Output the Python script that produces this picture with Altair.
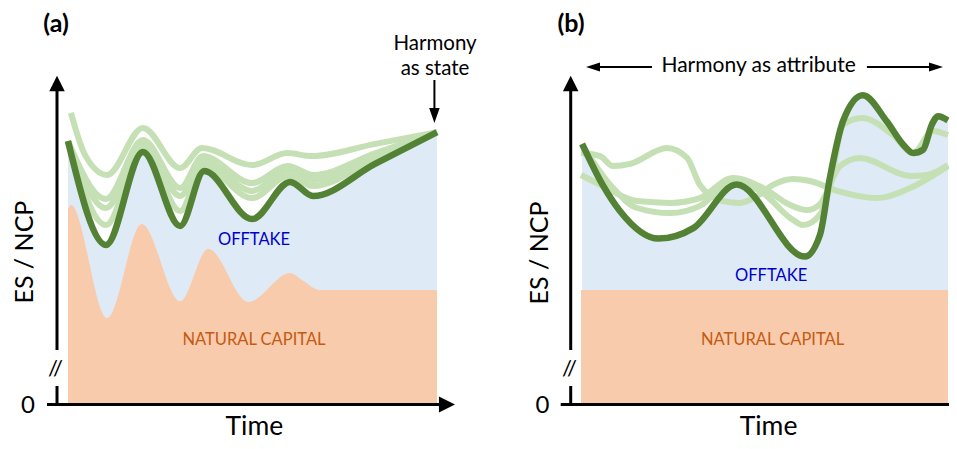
import altair as alt
import pandas as pd

# ---------------- colours ----------------
DARK = "#548235"
LIGHT = "#C5E0B4"
BLUE_FILL = "#DEEBF7"
ORANGE_FILL = "#F8CBAD"
BLUE_TXT = "#0000CC"
ORANGE_TXT = "#C55A11"
FONT = "Lato"

# ---------------- panel (a) data ----------------
a_dark_t = [0, 10.3, 20.3, 30.4, 36.9, 49.9, 60.2, 66.4, 83.2, 100]
a_dark_v = [87.3, 52.7, 83.7, 59.0, 77.3, 61.3, 73.7, 69.0, 79.7, 90.3]

a_light_t1 = [0.8, 4.6, 10.6, 20.3, 30.4, 36.3, 49.9, 59.4, 66.1, 83.0, 100]
a_light_v1 = [96.7, 82.7, 76.0, 91.7, 78.3, 85.0, 79.3, 83.3, 82.3, 86.3, 90.3]
a_light_t = [0, 10.3, 20.3, 30.4, 36.6, 49.9, 59.6, 66.4, 83.2, 100]
a_light_v2 = [87.3, 68.0, 87.7, 71.7, 82.3, 73.3, 79.0, 76.0, 83.2, 90.3]
a_light_v3 = [87.3, 65.0, 86.3, 69.0, 80.7, 70.7, 77.7, 74.3, 82.3, 90.3]
a_light_v4 = [87.3, 59.3, 85.3, 64.0, 79.0, 68.3, 75.7, 72.3, 81.3, 90.3]

a_nc_t = [0, 0.8, 10.6, 20.0, 30.4, 38.0, 48.9, 60.2, 63.3, 68.3, 100]
a_nc_v = [64.5, 66.0, 28.3, 59.7, 33.9, 51.4, 33.7, 43.3, 41.1, 37.7, 37.7]

# ---------------- panel (b) data ----------------
b_dark_t = [0.3, 5.9, 10.6, 21.1, 30.6, 42.4, 61.0, 65.1, 67.8, 71.4, 76.8, 83.3, 87.8, 90.5, 93.2, 95.6, 97.3, 100]
b_dark_v = [86.4, 72.7, 64.0, 54.8, 58.3, 72.8, 48.8, 56.0, 75.0, 94.0, 102.6, 93.9, 86.1, 83.3, 84.4, 92.8, 95.6, 94.2]

b_la_t = [0, 5.2, 8.7, 13.4, 23.4, 28.9, 32.4, 38.7, 43.3, 48.0, 52.3, 57.8, 62.4, 69.8, 80.7, 89.7, 100]
b_la_v = [83.3, 82.3, 79.0, 79.7, 85.0, 81.7, 72.7, 67.3, 66.7, 69.0, 72.7, 74.7, 74.0, 70.7, 68.3, 71.7, 79.0]
b_lb_t = [0, 6.0, 15.3, 24.3, 32.4, 41.4, 49.6, 57.0, 61.6, 65.1, 70.6, 76.0, 89.7, 94.3, 100]
b_lb_v = [76.0, 72.3, 67.3, 66.7, 68.3, 75.0, 71.7, 66.0, 64.3, 66.3, 79.0, 81.7, 75.7, 76.0, 79.3]
b_lc_t = [0.3, 8.7, 15.3, 24.3, 32.4, 41.4, 49.6, 57.0, 60.5, 65.1, 67.8, 71.4, 76.6, 85.0, 90.5, 95.9, 100]
b_lc_v = [86.0, 71.7, 65.0, 63.3, 65.7, 74.0, 70.0, 61.7, 59.3, 62.8, 72.0, 92.7, 95.0, 89.3, 83.3, 90.7, 89.3]

b_nc_t = [0, 100]
b_nc_v = [37.67, 37.67]

# ---------------- annotation content ----------------
# (text, t, v, size, angle, colour, weight, baseline)
a_texts = [
    ("(a)", -3.25, 123.6, 25, 0, "black", "bold", "alphabetic"),
    ("ES / NCP", -9.5, 50.3, 25, 270, "black", "normal", "alphabetic"),
    ("0", -10.84, -3.33, 24, 0, "black", "normal", "alphabetic"),
    ("//", -3.39, 11.33, 22, 0, "black", "normal", "middle"),
    ("Time", 50.5, -10.67, 26.5, 0, "black", "normal", "alphabetic"),
    ("OFFTAKE", 50.4, 52.67, 16.5, 0, BLUE_TXT, "normal", "alphabetic"),
    ("NATURAL CAPITAL", 50.4, 19.33, 16.5, 0, ORANGE_TXT, "normal", "alphabetic"),
    ("Harmony", 99.46, 117.67, 20.5, 0, "black", "normal", "alphabetic"),
    ("as state", 99.46, 109.33, 20.5, 0, "black", "normal", "alphabetic"),
]
b_texts = [
    ("(b)", -2.72, 123.6, 25, 0, "black", "bold", "alphabetic"),
    ("ES / NCP", -9.0, 50.0, 25, 270, "black", "normal", "alphabetic"),
    ("0", -10.5, -3.33, 24, 0, "black", "normal", "alphabetic"),
    ("//", -3.13, 11.17, 22, 0, "black", "normal", "middle"),
    ("Time", 51.1, -10.67, 26.5, 0, "black", "normal", "alphabetic"),
    ("OFFTAKE", 51.8, 40.8, 16.5, 0, BLUE_TXT, "normal", "alphabetic"),
    ("NATURAL CAPITAL", 52.2, 19.33, 16.5, 0, ORANGE_TXT, "normal", "alphabetic"),
    ("Harmony as attribute", 48.4, 110.33, 21, 0, "black", "normal", "alphabetic"),
]

# rules: t, v, t2, v2, width
a_rules = [
    (-2.98, 17.67, -2.98, 104.0, 3),
    (-2.98, 5.67, -2.98, -0.5, 3),
    (-5.69, -0.5, 101.0, -0.5, 3),
    (99.3, 107.67, 99.3, 97.0, 2),
]
b_rules = [
    (-2.81, 17.67, -2.81, 104.0, 3),
    (-2.81, 5.67, -2.81, -0.5, 3),
    (-5.53, -0.5, 102.0, -0.5, 3),
    (3.8, 112.0, 19.35, 112.0, 2),
    (77.9, 112.0, 95.5, 112.0, 2),
]

UP = "M0,-1L-1,1L1,1Z"
RIGHT = "M1,0L-1,-1L-1,1Z"
DOWN_NARROW = "M-0.7,-1L0.7,-1L0,1Z"
LEFT_SMALL = "M-1,0L1,-0.65L1,0.65Z"
RIGHT_SMALL = "M1,0L-1,-0.65L-1,0.65Z"

a_heads = [
    (-2.98, 106.5, UP, 240),
    (102.7, -0.5, RIGHT, 256),
    (99.3, 95.83, DOWN_NARROW, 225),
]
b_heads = [
    (-2.81, 106.5, UP, 240),
    (3.27, 112.0, LEFT_SMALL, 196),
    (96.73, 112.0, RIGHT_SMALL, 196),
]


def df(t, v):
    return pd.DataFrame({"t": t, "v": v})


def make_panel(light, dark_t, dark_v, nc_t, nc_v, rules, heads, texts, xdom, ydom, w, h):
    xs = alt.Scale(domain=xdom, nice=False, zero=False)
    ys = alt.Scale(domain=ydom, nice=False, zero=False)
    X = alt.X("t:Q", scale=xs, axis=None)
    Y = alt.Y("v:Q", scale=ys, axis=None)

    layers = []
    layers.append(
        alt.Chart(df(dark_t, dark_v)).mark_area(color=BLUE_FILL, interpolate="monotone", opacity=1, clip=True)
        .encode(x=X, y=Y, y2=alt.datum(0))
    )
    layers.append(
        alt.Chart(df(nc_t, nc_v)).mark_area(color=ORANGE_FILL, interpolate="monotone", opacity=1, clip=True)
        .encode(x=X, y=Y, y2=alt.datum(0))
    )
    for lt, lv in light:
        layers.append(
            alt.Chart(df(lt, lv)).mark_line(color=LIGHT, strokeWidth=6, interpolate="monotone",
                                            strokeJoin="round", clip=True)
            .encode(x=X, y=Y)
        )
    layers.append(
        alt.Chart(df(dark_t, dark_v)).mark_line(color=DARK, strokeWidth=6.5, interpolate="monotone",
                                                strokeJoin="round", clip=True)
        .encode(x=X, y=Y)
    )
    rdf = pd.DataFrame(rules, columns=["t", "v", "t2", "v2", "w"])
    layers.append(
        alt.Chart(rdf).mark_rule(color="black", clip=True).encode(
            x=X, y=Y, x2="t2:Q", y2="v2:Q",
            strokeWidth=alt.StrokeWidth("w:Q", scale=None),
        )
    )
    hdf = pd.DataFrame(heads, columns=["t", "v", "shape", "size"])
    layers.append(
        alt.Chart(hdf).mark_point(filled=True, color="black", opacity=1, strokeWidth=0, clip=True).encode(
            x=X, y=Y,
            shape=alt.Shape("shape:N", scale=None),
            size=alt.Size("size:Q", scale=None),
        )
    )
    for (txt, t, v, size, angle, color, weight, baseline) in texts:
        layers.append(
            alt.Chart(pd.DataFrame({"t": [t], "v": [v], "label": [txt]}))
            .mark_text(font=FONT, fontSize=size, angle=angle, color=color,
                       fontWeight=weight, baseline=baseline, align="center")
            .encode(x=X, y=Y, text="label:N")
        )
    return alt.layer(*layers).properties(width=w, height=h)


YDOM = [-12.67, 131.67]

panel_a = make_panel(
    [(a_light_t1, a_light_v1), (a_light_t, a_light_v2), (a_light_t, a_light_v3), (a_light_t, a_light_v4)],
    a_dark_t, a_dark_v, a_nc_t, a_nc_v, a_rules, a_heads, a_texts,
    [-16.26, 111.11], YDOM, 470, 433,
)
panel_b = make_panel(
    [(b_la_t, b_la_v), (b_lb_t, b_lb_v), (b_lc_t, b_lc_v)],
    b_dark_t, b_dark_v, b_nc_t, b_nc_v, b_rules, b_heads, b_texts,
    [-28.07, 100.27], YDOM, 471, 433,
)

chart = (
    alt.hconcat(panel_a, panel_b, spacing=0)
    .properties(padding=0, bounds="flush")
    .configure_view(stroke=None)
)

chart.save("out.html", embed_options={"renderer": "svg", "actions": False})
